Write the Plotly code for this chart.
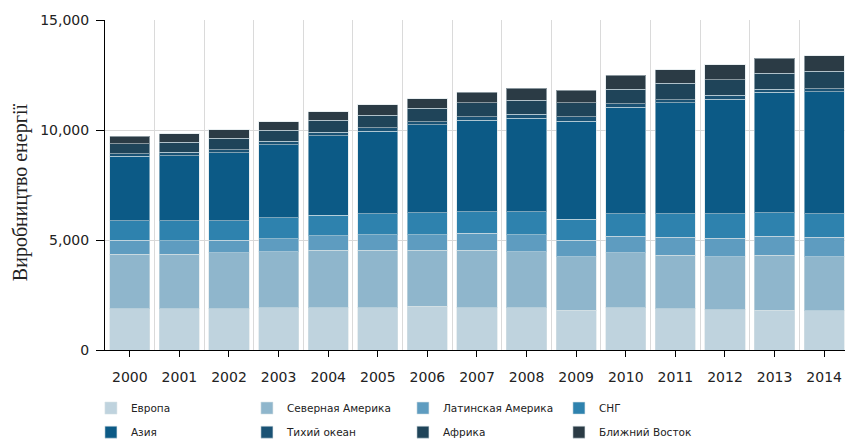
import plotly.graph_objects as go

years = [2000, 2001, 2002, 2003, 2004, 2005, 2006, 2007, 2008, 2009, 2010, 2011, 2012, 2013, 2014]
year_labels = [str(y) for y in years]

europe = [1880, 1880, 1885, 1925, 1930, 1930, 1985, 1930, 1930, 1805, 1930, 1880, 1835, 1805, 1775]
north_america = [2480, 2480, 2535, 2540, 2615, 2615, 2560, 2615, 2540, 2435, 2490, 2435, 2400, 2510, 2465]
latin_america = [640, 595, 580, 595, 640, 685, 685, 760, 760, 760, 760, 810, 840, 865, 885]
cis = [880, 925, 880, 960, 945, 960, 1020, 985, 1065, 945, 1005, 1065, 1110, 1065, 1065]
asia = [2920, 2955, 3075, 3305, 3620, 3760, 3990, 4155, 4245, 4455, 4855, 5055, 5205, 5465, 5555]
pacific = [125, 165, 150, 165, 150, 155, 140, 155, 170, 200, 155, 140, 195, 150, 140]
africa = [455, 440, 515, 490, 545, 575, 605, 640, 640, 640, 665, 730, 705, 715, 775]
middle_east = [335, 395, 395, 395, 395, 475, 445, 485, 550, 575, 640, 620, 665, 685, 715]

series = [
    ("Европа", europe, "#bfd3de"),
    ("Северная Америка", north_america, "#8fb6cc"),
    ("Латинская Америка", latin_america, "#5e9cc0"),
    ("СНГ", cis, "#2e82ae"),
    ("Азия", asia, "#0c5a86"),
    ("Тихий океан", pacific, "#1a5274"),
    ("Африка", africa, "#1f4459"),
    ("Ближний Восток", middle_east, "#2b3b45"),
]

y_ticks = [0, 5000, 10000, 15000]
y_title = "Виробництво енергії"

fig = go.Figure()
for i, (name, vals, color) in enumerate(series):
    fig.add_trace(go.Bar(
        x=years, y=vals, name=name,
        legend="legend" if i < 4 else "legend2",
        marker=dict(color=color, line=dict(color="rgba(215,225,230,0.55)", width=1)),
    ))

legend_common = dict(
    orientation="h",
    xanchor="left",
    yanchor="middle",
    entrywidth=111,
    traceorder="normal",
    font=dict(family="DejaVu Sans", size=10.5, color="#222222"),
    bgcolor="rgba(0,0,0,0)",
)

fig.update_layout(
    barmode="stack",
    bargap=0.19,
    width=845, height=442,
    margin=dict(l=105, r=0, t=20, b=92, autoexpand=False),
    paper_bgcolor="white",
    plot_bgcolor="white",
    font=dict(family="DejaVu Sans", color="#222222", size=14),
    legend=dict(legend_common, x=-0.019, y=-0.176),
    legend2=dict(legend_common, x=-0.019, y=-0.249),
    xaxis=dict(
        range=[years[0] - 0.5, years[-1] + 0.42],
        tickmode="array",
        tickvals=years,
        ticktext=year_labels,
        showgrid=False,
        showline=True, linecolor="black", linewidth=1,
        ticks="outside", ticklen=6, tickcolor="black",
        tickfont=dict(size=14),
        ticklabelstandoff=8,
        zeroline=False,
        minor=dict(
            tickmode="array",
            tickvals=[y + 0.5 for y in years[:-1]],
            showgrid=True, gridcolor="#dadada", gridwidth=1,
            ticks="",
        ),
    ),
    yaxis=dict(
        range=[0, 15000],
        tickmode="array",
        tickvals=y_ticks,
        tickformat=",",
        showgrid=True, gridcolor="#d8d8d8", gridwidth=1,
        showline=True, linecolor="black", linewidth=1,
        ticks="outside", ticklen=8, tickcolor="black",
        tickfont=dict(size=14),
        ticklabelstandoff=4,
        zeroline=False,
    ),
    annotations=[dict(
        text=y_title,
        xref="paper", yref="paper",
        x=-0.115, y=0.478,
        xanchor="center", yanchor="middle",
        textangle=-90,
        showarrow=False,
        font=dict(family="Liberation Serif", size=20, color="#222222"),
    )],
)

fig.write_html("out.html")
